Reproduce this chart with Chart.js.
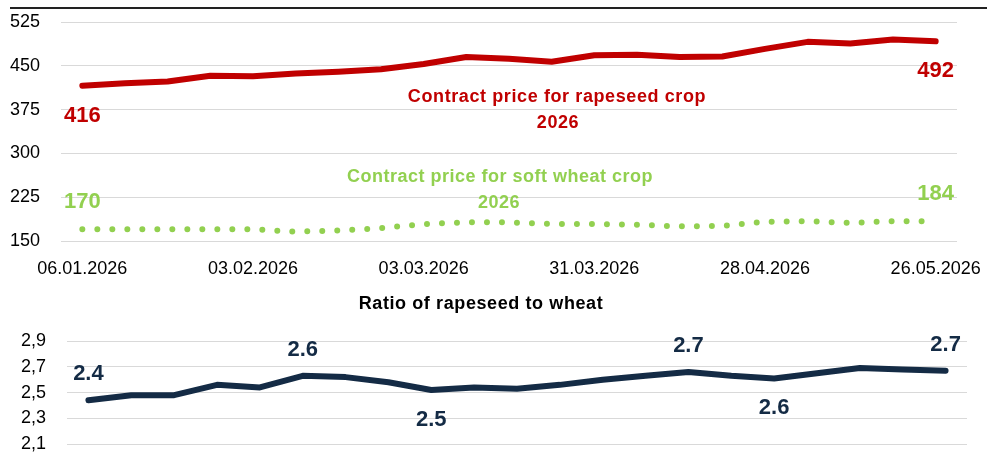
<!DOCTYPE html>
<html>
<head>
<meta charset="utf-8">
<script src="https://cdn.jsdelivr.net/npm/chart.js@4/dist/chart.umd.min.js"></script>
<style>
  html, body { margin: 0; padding: 0; background: #fff; }
  #wrap { position: relative; width: 987px; height: 452px; overflow: hidden; }
  #topRule { position: absolute; left: 10px; top: 7px; width: 977px; height: 2px; background: #222; }
  #priceBox { position: absolute; left: 0; top: 0; width: 987px; height: 290px; }
  #ratioBox { position: absolute; left: 0; top: 290px; width: 987px; height: 165px; }
</style>
</head>
<body>
<div id="wrap">
  <div id="topRule"></div>
  <div id="priceBox"><canvas id="priceChart"></canvas></div>
  <div id="ratioBox"><canvas id="ratioChart"></canvas></div>
</div>
<script>
const weeks = ["06.01.2026", "13.01.2026", "20.01.2026", "27.01.2026", "03.02.2026", "10.02.2026",
  "17.02.2026", "24.02.2026", "03.03.2026", "10.03.2026", "17.03.2026", "24.03.2026", "31.03.2026",
  "07.04.2026", "14.04.2026", "21.04.2026", "28.04.2026", "05.05.2026", "12.05.2026", "19.05.2026",
  "26.05.2026"];

const rapeseed = [416, 420, 423, 433, 432, 437, 440, 444, 453, 465, 462, 457, 468, 469, 465, 466, 479, 491, 488, 495, 492];
const wheat = [170, 170, 170, 170, 170, 166, 168, 172, 179, 182, 182, 179, 179, 178, 175, 176, 183, 184, 181, 184, 184];
const ratio = [2.44, 2.48, 2.48, 2.56, 2.54, 2.63, 2.62, 2.58, 2.52, 2.54, 2.53, 2.56, 2.60, 2.63, 2.66, 2.63, 2.61, 2.65, 2.69, 2.68, 2.67];

const priceTicks = [150, 225, 300, 375, 450, 525];
const ratioTicks = [2.1, 2.3, 2.5, 2.7, 2.9];

// which points get a value label, and on which side (-1 above, 1 below)
const priceMarkIdx = [0, 20];
const ratioMarkIdx = [0, 5, 8, 14, 16, 20];
const ratioMarkSide = [-1, -1, 1, -1, 1, -1];

const RED = "#C00000";
const GREEN = "#92D050";
const NAVY = "#142B45";
const FONT = "'Liberation Sans', Arial, sans-serif";

function drawText(ctx, txt, x, y, color, size, spacing) {
    ctx.save();
    ctx.font = "bold " + size + "px " + FONT;
    ctx.fillStyle = color;
    ctx.textAlign = "center";
    ctx.textBaseline = "middle";
    ctx.letterSpacing = (spacing || 0) + "px";
    ctx.fillText(txt, x, y);
    ctx.restore();
}

const priceLabels = {
    id: "priceLabels",
    afterDatasetsDraw(chart) {
        const ctx = chart.ctx;
        const xs = chart.scales.x, ys = chart.scales.y;
        priceMarkIdx.forEach(i => {
            drawText(ctx, String(rapeseed[i]), xs.getPixelForValue(i), ys.getPixelForValue(rapeseed[i]) + 30, RED, 22);
            drawText(ctx, String(wheat[i]), xs.getPixelForValue(i), ys.getPixelForValue(wheat[i]) - 27, GREEN, 22);
        });
        drawText(ctx, "Contract price for rapeseed crop", 557, 97, RED, 18, 0.6);
        drawText(ctx, "2026", 558, 123, RED, 18, 0.6);
        drawText(ctx, "Contract price for soft wheat crop", 500, 177, GREEN, 18, 0.5);
        drawText(ctx, "2026", 499, 203, GREEN, 18, 0.5);
    }
};

const ratioLabels = {
    id: "ratioLabels",
    afterDatasetsDraw(chart) {
        const ctx = chart.ctx;
        const xs = chart.scales.x, ys = chart.scales.y;
        ratioMarkIdx.forEach((i, k) => {
            const off = ratioMarkSide[k] < 0 ? -26 : 30;
            drawText(ctx, ratio[i].toFixed(1), xs.getPixelForValue(i), ys.getPixelForValue(ratio[i]) + off, NAVY, 22);
        });
        drawText(ctx, "Ratio of rapeseed to wheat", 481, 14, "#000", 18, 0.6);
    }
};

Chart.defaults.font.family = FONT;
Chart.defaults.color = "#000";

new Chart(document.getElementById("priceChart"), {
    type: "line",
    data: {
        labels: weeks,
        datasets: [{
            label: "Contract price for rapeseed crop 2026",
            data: rapeseed,
            borderColor: RED,
            borderWidth: 6,
            borderCapStyle: "round",
            borderJoinStyle: "round",
            pointRadius: 0,
            tension: 0
        }, {
            label: "Contract price for soft wheat crop 2026",
            data: wheat,
            borderColor: GREEN,
            borderWidth: 6,
            borderCapStyle: "round",
            borderDash: [0, 15],
            pointRadius: 0,
            tension: 0
        }]
    },
    options: {
        responsive: true,
        maintainAspectRatio: false,
        animation: false,
        layout: { padding: { left: 10, right: 30, top: 22, bottom: 0 } },
        plugins: { legend: { display: false }, tooltip: { enabled: false } },
        scales: {
            x: {
                offset: true,
                grid: { display: false, drawTicks: true, tickLength: 17 },
                border: { display: false },
                ticks: {
                    autoSkip: false,
                    maxRotation: 0,
                    padding: 0,
                    font: { size: 18 },
                    callback: (v, i) => (i % 4 === 0 ? weeks[i] : "")
                },
                afterFit: s => { s.height = 49; }
            },
            y: {
                min: 150,
                max: 525,
                afterBuildTicks: s => { s.ticks = priceTicks.map(v => ({ value: v })); },
                grid: { color: "#d9d9d9", lineWidth: 1, drawTicks: false },
                border: { display: false },
                ticks: { padding: 0, crossAlign: "far", font: { size: 18 } },
                afterFit: s => { s.width = 51; }
            }
        }
    },
    plugins: [priceLabels]
});

new Chart(document.getElementById("ratioChart"), {
    type: "line",
    data: {
        labels: weeks,
        datasets: [{
            label: "Ratio of rapeseed to wheat",
            data: ratio,
            borderColor: NAVY,
            borderWidth: 6,
            borderCapStyle: "round",
            borderJoinStyle: "round",
            pointRadius: 0,
            tension: 0
        }]
    },
    options: {
        responsive: true,
        maintainAspectRatio: false,
        animation: false,
        layout: { padding: { left: 21, right: 20, top: 51, bottom: 0 } },
        plugins: { legend: { display: false }, tooltip: { enabled: false } },
        scales: {
            x: {
                display: false,
                offset: true
            },
            y: {
                min: 2.1,
                max: 2.9,
                afterBuildTicks: s => { s.ticks = ratioTicks.map(v => ({ value: v })); },
                grid: { color: "#d9d9d9", lineWidth: 1, drawTicks: false },
                border: { display: false },
                ticks: {
                    padding: 0,
                    crossAlign: "far",
                    font: { size: 18 },
                    callback: v => v.toFixed(1).replace(".", ",")
                },
                afterFit: s => { s.width = 46; }
            }
        }
    },
    plugins: [ratioLabels]
});
</script>
</body>
</html>
